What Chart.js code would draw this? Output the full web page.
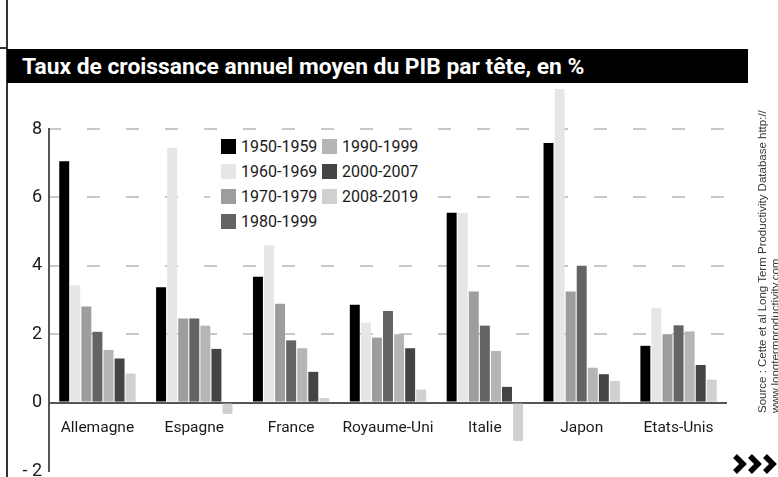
<!DOCTYPE html>
<html lang="fr">
<head>
<meta charset="utf-8">
<script src="https://cdn.jsdelivr.net/npm/chart.js@4.4.1/dist/chart.umd.min.js"></script>
<style>
  html, body { margin: 0; padding: 0; background: #fff; }
  body { width: 778px; height: 477px; overflow: hidden; position: relative;
         font-family: Roboto, "Noto Sans", sans-serif; color: #1a1a1a; }
  canvas { position: absolute; left: 0; top: 0; }
  #frame { position: absolute; left: 6px; top: 0; width: 2px; height: 477px; background: #333; }
  #notch { position: absolute; left: 0; top: 47px; width: 8px; height: 2px; background: #333; }
  #title { position: absolute; left: 7px; top: 49px; width: 741px; height: 34px; box-sizing: border-box;
           padding-left: 15px; background: #000; color: #fff; font-weight: 700; font-size: 22.8px;
           line-height: 35px; white-space: nowrap; }
  #legend { position: absolute; left: 210px; top: 134px; padding: 0 8px 0 11px; background: #fff;
            display: grid; grid-template-rows: repeat(4, 25px); grid-auto-flow: column;
            grid-auto-columns: 101px; }
  .item { display: flex; align-items: center; font-size: 16px; color: #1a1a1a; }
  .box { width: 15px; height: 15px; margin-right: 5px; flex: none; }
  #source { position: absolute; left: 756px; top: 413px; transform-origin: 0 0; transform: rotate(-90deg);
            font-family: "Liberation Sans Narrow", "Arial Narrow", "Liberation Sans", sans-serif;
            font-size: 11.5px; line-height: 13px; color: #333; white-space: nowrap; }
  #more { position: absolute; left: 733px; top: 455px; overflow: visible; }
</style>
</head>
<body>
<div id="frame"></div>
<div id="notch"></div>
<canvas id="growthChart" width="778" height="500"></canvas>
<div id="title">Taux de croissance annuel moyen du PIB par tête, en %</div>
<div id="legend"></div>
<div id="source">Source : Cette et al Long Term Productivity Database http://<br>www.longtermproductivity.com</div>
<svg id="more" width="45" height="18">
  <path d="M2 1 L10 9 L2 17 M17 1 L25 9 L17 17 M32 1 L40 9 L32 17" fill="none" stroke="#000" stroke-width="5.5"/>
</svg>
<script>
// pays et périodes
var countries = ["Allemagne", "Espagne", "France", "Royaume-Uni", "Italie", "Japon", "Etats-Unis"];
var periods = ["1950-1959", "1960-1969", "1970-1979", "1980-1999", "1990-1999", "2000-2007", "2008-2019"];
var periodColors = ["#000000", "#e6e6e6", "#9d9d9d", "#646464", "#b5b5b5", "#444444", "#d0d0d2"];

// croissance annuelle moyenne, en %, une liste par période (ordre des pays ci-dessus)
var g1950 = [7.06, 3.37, 3.68, 2.86, 5.55, 7.59, 1.66];
var g1960 = [3.43, 7.45, 4.60, 2.34, 5.55, 9.17, 2.77];
var g1970 = [2.81, 2.46, 2.89, 1.90, 3.25, 3.25, 2.00];
var g1980 = [2.07, 2.46, 1.82, 2.68, 2.25, 4.00, 2.26];
var g1990 = [1.54, 2.25, 1.59, 2.00, 1.51, 1.02, 2.08];
var g2000 = [1.29, 1.57, 0.90, 1.59, 0.46, 0.83, 1.10];
var g2008 = [0.85, -0.33, 0.13, 0.38, -1.12, 0.63, 0.67];
var series = [g1950, g1960, g1970, g1980, g1990, g2000, g2008];

var yMin = -2, yMax = 8, yStep = 2;

var datasets = periods.map(function (p, i) {
  return {
    label: p,
    data: series[i],
    backgroundColor: periodColors[i],
    borderWidth: 0,
    categoryPercentage: 0.8,
    barPercentage: 0.9,
    clip: false
  };
});

var ctx = document.getElementById("growthChart");
var growthChart = new Chart(ctx, {
  type: "bar",
  data: { labels: countries, datasets: datasets },
  options: {
    responsive: false,
    animation: false,
    devicePixelRatio: 1,
    layout: { padding: { left: 19, right: 51, top: 129, bottom: 29 } },
    plugins: { legend: { display: false }, tooltip: { enabled: false } },
    scales: {
      x: {
        position: { y: 0 },
        grid: { display: false },
        border: { display: false },
        ticks: {
          color: "#1a1a1a",
          font: { family: "Roboto", size: 15.5 },
          padding: 8,
          maxRotation: 0,
          autoSkip: false
        },
        afterFit: function (scale) { scale.height = 0; }
      },
      y: {
        min: yMin,
        max: yMax,
        grid: {
          drawTicks: false,
          lineWidth: 2,
          color: function (c) {
            if (c.tick.value === 0) return "#555";
            if (c.tick.value < 0) return "rgba(0,0,0,0)";
            return "#c8c8c8";
          }
        },
        border: {
          color: "#555",
          width: 2,
          dash: function (c) { return c.tick && c.tick.value === 0 ? [] : [13, 26]; },
          dashOffset: 2
        },
        ticks: {
          stepSize: yStep,
          padding: 7,
          color: "#1a1a1a",
          font: { family: "Roboto", size: 18 },
          callback: function (v) { return v < 0 ? "- " + Math.abs(v) : v; }
        },
        afterFit: function (scale) { scale.width = 30; }
      }
    }
  }
});

// légende en deux colonnes
var legend = document.getElementById("legend");
growthChart.data.datasets.forEach(function (ds) {
  var item = document.createElement("div");
  item.className = "item";
  var box = document.createElement("span");
  box.className = "box";
  box.style.background = ds.backgroundColor;
  item.appendChild(box);
  item.appendChild(document.createTextNode(ds.label));
  legend.appendChild(item);
});
</script>
</body>
</html>
